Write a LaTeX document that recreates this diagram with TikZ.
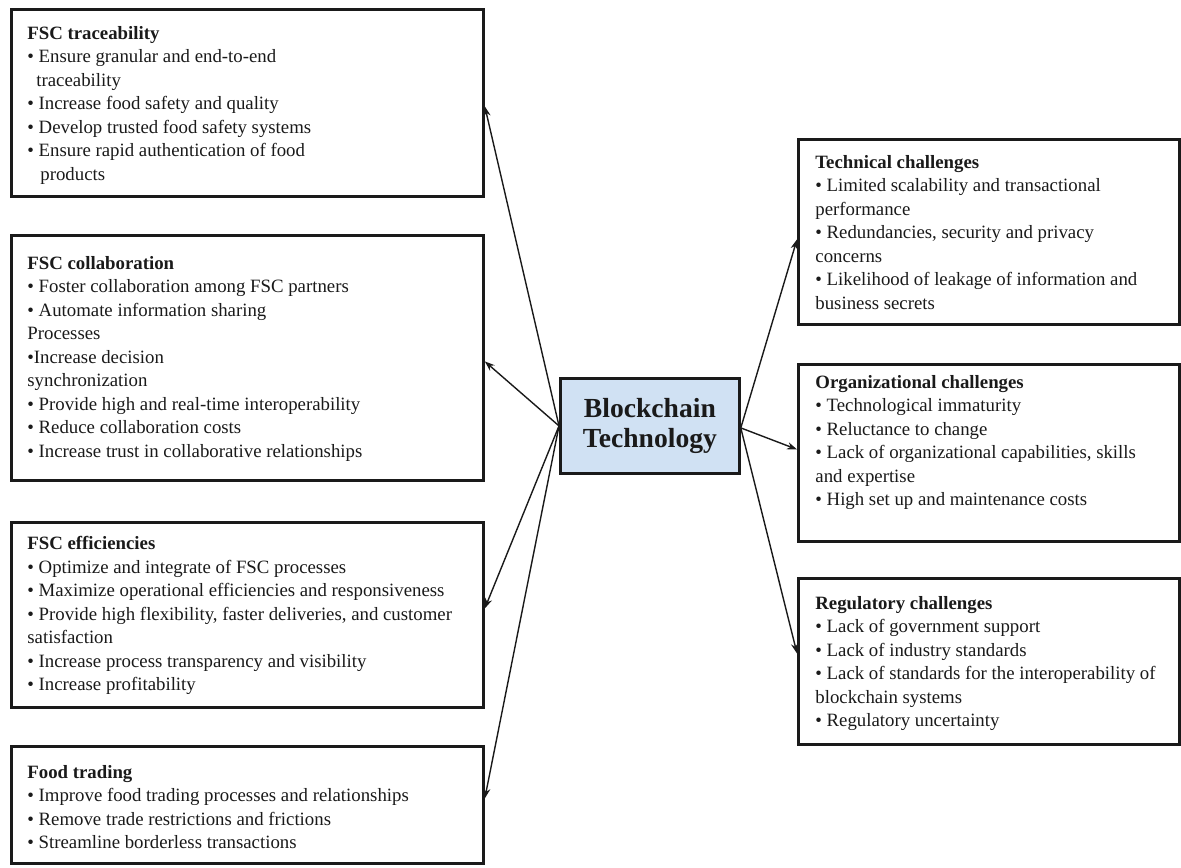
\documentclass[tikz,border=0pt]{standalone}
\usepackage{fontspec}
\setmainfont{Liberation Serif}
\usetikzlibrary{arrows.meta,calc}
\definecolor{hubfill}{HTML}{D0E1F3}
\definecolor{ink}{HTML}{1A1A1A}
\tikzset{
  frame/.style={draw=ink, line width=1.4pt, anchor=north west, inner sep=0pt},
  body/.style={anchor=north west, inner sep=0pt, align=left, text=ink,
    font=\fontsize{9.4}{11.75}\selectfont},
  hub/.style={draw=ink, fill=hubfill, line width=1.4pt, anchor=north west,
    inner sep=0pt, align=center, text=ink,
    font=\fontsize{13.8}{14.6}\selectfont\bfseries},
  link/.style={draw=ink, line width=0.7pt, -{Stealth[length=5pt,width=3.6pt]}}
}
\begin{document}
\begin{tikzpicture}[x=0.5pt,y=-0.5pt]
\useasboundingbox (0,0) rectangle (1181,867);
\fill[white] (0,0) rectangle (1181,867);

% benefit frames (left column)
\node[frame, minimum width=236pt, minimum height=93.5pt] (b1) at (10,8) {};
\node[frame, minimum width=236pt, minimum height=122.5pt] (b2) at (10,234) {};
\node[frame, minimum width=236pt, minimum height=92.5pt] (b3) at (10,521) {};
\node[frame, minimum width=236pt, minimum height=58.5pt] (b4) at (10,745) {};

% challenge frames (right column)
\node[frame, minimum width=190.5pt, minimum height=92.5pt] (r1) at (797,138) {};
\node[frame, minimum width=190.5pt, minimum height=88.5pt] (r2) at (797,363) {};
\node[frame, minimum width=190.5pt, minimum height=83pt] (r3) at (797,577) {};

% central hub
\node[hub, minimum width=89.5pt, minimum height=47.5pt] (c) at (559,377) {Blockchain\\Technology};

% frame contents
\node[body] (t1) at (27,26) {\textbf{FSC traceability}\\
• Ensure granular and end-to-end\\
\hspace*{4.5pt}traceability\\
• Increase food safety and quality\\
• Develop trusted food safety systems\\
• Ensure rapid authentication of food\\
\hspace*{6.5pt}products};

\node[body] (t2) at (27,256) {\textbf{FSC collaboration}\\
• Foster collaboration among FSC partners\\
• Automate information sharing\\
Processes\\
•Increase decision\\
synchronization\\
• Provide high and real-time interoperability\\
• Reduce collaboration costs\\
• Increase trust in collaborative relationships};

\node[body] (t3) at (27,536) {\textbf{FSC efficiencies}\\
• Optimize and integrate of FSC processes\\
• Maximize operational efficiencies and responsiveness\\
• Provide high flexibility, faster deliveries, and customer\\
satisfaction\\
• Increase process transparency and visibility\\
• Increase profitability};

\node[body] (t4) at (27,765) {\textbf{Food trading}\\
• Improve food trading processes and relationships\\
• Remove trade restrictions and frictions\\
• Streamline borderless transactions};

\node[body] (t5) at (815,155) {\textbf{Technical challenges}\\
• Limited scalability and transactional\\
performance\\
• Redundancies, security and privacy\\
concerns\\
• Likelihood of leakage of information and\\
business secrets};

\node[body] (t6) at (815,375) {\textbf{Organizational challenges}\\
• Technological immaturity\\
• Reluctance to change\\
• Lack of organizational capabilities, skills\\
and expertise\\
• High set up and maintenance costs};

\node[body] (t7) at (815,596) {\textbf{Regulatory challenges}\\
• Lack of government support\\
• Lack of industry standards\\
• Lack of standards for the interoperability of\\
blockchain systems\\
• Regulatory uncertainty};

% connectors from the hub
\draw[link] (c.west) -- ([yshift=-1.75pt]b1.east);
\draw[link] (c.west) -- ([yshift=-1.75pt]b2.east);
\draw[link] (c.west) -- ([yshift=3.25pt]b3.east);
\draw[link] (c.west) -- ([yshift=3.25pt]b4.east);
\draw[link] ([yshift=-1pt]c.east) -- ([yshift=-3.75pt]r1.west);
\draw[link] ([yshift=-1pt]c.east) -- ([yshift=1.75pt]r2.west);
\draw[link] ([yshift=-1pt]c.east) -- ([yshift=4pt]r3.west);
\end{tikzpicture}
\end{document}
